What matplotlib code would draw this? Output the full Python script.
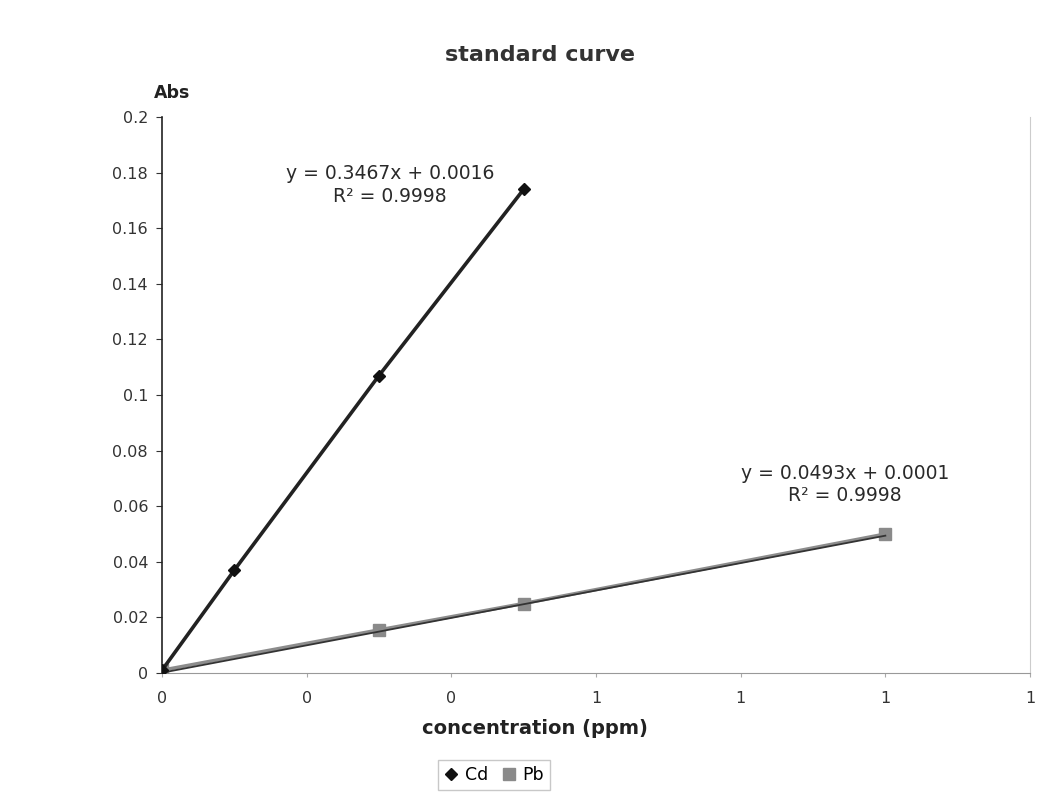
import matplotlib
matplotlib.use("Agg")
import matplotlib.pyplot as plt
import numpy as np

plt.rcParams['font.family'] = ['DejaVu Sans']

cd_x = [0.0, 0.1, 0.3, 0.5]
cd_y = [0.001, 0.037, 0.107, 0.174]
pb_x = [0.0, 0.3, 0.5, 1.0]
pb_y = [0.001, 0.0155, 0.025, 0.050]
cd_eq = "y = 0.3467x + 0.0016\nR² = 0.9998"
pb_eq = "y = 0.0493x + 0.0001\nR² = 0.9998"
x_ticks = [0, 0.2, 0.4, 0.6, 0.8, 1.0, 1.2]
x_tick_labels = ["0", "0", "0", "1", "1", "1", "1"]
y_ticks = [0, 0.02, 0.04, 0.06, 0.08, 0.1, 0.12, 0.14, 0.16, 0.18, 0.2]
y_tick_labels = ["0", "0.02", "0.04", "0.06", "0.08", "0.1", "0.12", "0.14", "0.16", "0.18", "0.2"]

fig = plt.figure(figsize=(10.54, 7.98), dpi=100)
ax = fig.add_axes([162/1054, 1-673/798, (1030-162)/1054, (673-117)/798])

ax.plot(pb_x, pb_y, color='#8c8c8c', lw=2.5, marker='s', ms=8, mfc='#8a8a8a', mec='#8a8a8a', label='Pb', zorder=3)
xf = np.array([0, 1.0])
ax.plot(xf, 0.0493*xf + 0.0001, color='#333333', lw=1.3, zorder=4)
ax.plot(cd_x, cd_y, color='#222222', lw=2.6, marker='D', ms=6, mfc='#111111', mec='#111111', label='Cd', zorder=5)

ax.set_xlim(0, 1.2)
ax.set_ylim(0, 0.2)
ax.set_xticks(x_ticks)
ax.set_xticklabels(x_tick_labels)
ax.set_yticks(y_ticks)
ax.set_yticklabels(y_tick_labels)
ax.tick_params(axis='both', labelsize=11.5, colors='#333333', length=4, width=0.8)
ax.tick_params(axis='x', length=3, color='#aaaaaa', pad=10)
ax.tick_params(axis='y', pad=6)

ax.spines['top'].set_visible(False)
ax.spines['left'].set_color('#222222')
ax.spines['left'].set_linewidth(1.2)
ax.spines['bottom'].set_color('#999999')
ax.spines['right'].set_color('#cccccc')

ax.text(0.315, 0.1755, cd_eq, ha='center', va='center', fontsize=13.5, color='#2a2a2a', linespacing=1.25)
ax.text(0.944, 0.0678, pb_eq, ha='center', va='center', fontsize=13.5, color='#2a2a2a', linespacing=1.25)

fig.text(540/1054, 1-55/798, "standard curve", ha='center', va='center', fontsize=16, fontweight='bold', color='#333333')
fig.text(172/1054, 1-93/798, "Abs", ha='center', va='center', fontsize=12.5, fontweight='bold', color='#222222')
fig.text(535/1054, 1-728/798, "concentration (ppm)", ha='center', va='center', fontsize=14, fontweight='bold', color='#222222')

handles, labels = ax.get_legend_handles_labels()
order = [1, 0]
leg = fig.legend([handles[i] for i in order], [labels[i] for i in order], loc='center',
                 bbox_to_anchor=(494/1054, 1-775/798), ncol=2, frameon=True, fontsize=12.5,
                 handlelength=0.8, columnspacing=0.8, handletextpad=0.4, borderpad=0.35, fancybox=False)
leg.get_frame().set_edgecolor('#bbbbbb')
for h in leg.legend_handles:
    h.set_linestyle('none')

fig.savefig("out.png", dpi=100)
